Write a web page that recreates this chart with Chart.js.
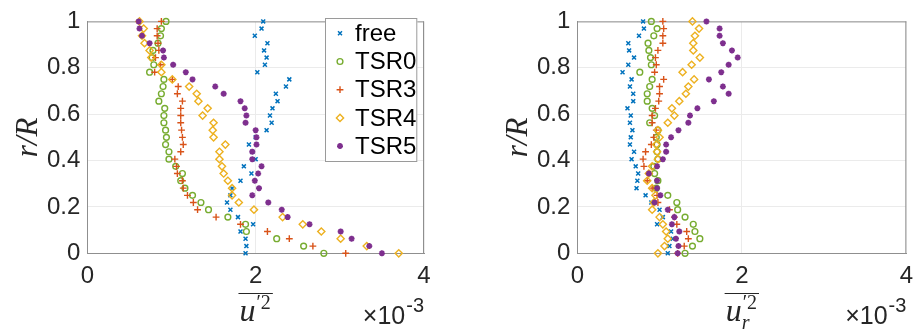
<!DOCTYPE html>
<html><head><meta charset="utf-8">
<script src="https://cdn.jsdelivr.net/npm/chart.js@4.4.1/dist/chart.umd.min.js"></script>
<style>
html,body{margin:0;padding:0;background:#fff;width:922px;height:331px;overflow:hidden}
canvas{position:absolute;top:0}
#c1{left:0}
#c2{left:490px}
</style></head><body>
<canvas id="c1" width="461" height="331"></canvas>
<canvas id="c2" width="432" height="331"></canvas>
<script>
// radial positions r/R (shared by every series)
const rOverR = [0, 0.031, 0.063, 0.094, 0.125, 0.156, 0.188, 0.219, 0.25, 0.281, 0.313, 0.344, 0.375, 0.406, 0.438, 0.469, 0.5, 0.531, 0.563, 0.594, 0.625, 0.656, 0.688, 0.719, 0.75, 0.781, 0.813, 0.844, 0.875, 0.906, 0.938, 0.969, 1];

const seriesNames = ['free', 'TSR0', 'TSR3', 'TSR4', 'TSR5'];

// left panel: mean of u'^2, in units of 1e-3
const u2_free = [1.88, 1.89, 1.88, 1.82, 1.97, 1.79, 1.70, 1.66, 1.70, 1.72, 1.82, 1.95, 1.86, 2.00, 1.96, 1.92, 2.00, 2.13, 2.19, 2.17, 2.20, 2.26, 2.24, 2.36, 2.40, 2.02, 2.11, 2.13, 2.10, 2.14, 1.99, 2.07, 2.09];
const u2_TSR0 = [2.81, 2.57, 2.25, 1.89, 1.88, 1.67, 1.44, 1.35, 1.25, 1.16, 1.11, 1.13, 1.05, 0.97, 0.97, 0.93, 0.94, 0.93, 0.91, 0.91, 0.92, 0.85, 0.88, 0.90, 0.91, 0.74, 0.79, 0.77, 0.78, 0.84, 0.87, 0.88, 0.935];
const u2_TSR3 = [3.07, 2.68, 2.40, 2.14, 1.82, 1.53, 1.31, 1.26, 1.19, 1.14, 1.13, 1.07, 1.06, 1.04, 1.11, 1.14, 1.13, 1.12, 1.11, 1.11, 1.11, 1.13, 1.07, 1.08, 1.01, 0.80, 0.87, 0.81, 0.85, 0.84, 0.83, 0.83, 0.88];
const u2_TSR4 = [3.70, 3.32, 3.01, 2.78, 2.56, 2.32, 1.98, 1.80, 1.72, 1.72, 1.67, 1.62, 1.60, 1.57, 1.57, 1.64, 1.50, 1.49, 1.50, 1.37, 1.43, 1.32, 1.30, 1.21, 1.01, 0.88, 0.88, 0.76, 0.74, 0.68, 0.65, 0.67, 0.62];
const u2_TSR5 = [3.50, 3.35, 3.14, 3.01, 2.64, 2.38, 2.31, 2.15, 1.96, 2.04, 1.99, 2.03, 2.07, 1.96, 1.96, 2.01, 2.01, 2.00, 1.88, 1.89, 1.87, 1.82, 1.62, 1.52, 1.25, 1.17, 1.02, 0.91, 0.90, 0.74, 0.65, 0.62, 0.61];

// right panel: mean of u_r'^2, in units of 1e-3
const ur2_free = [1.10, 1.12, 1.16, 1.14, 0.97, 1.04, 1.00, 0.90, 0.83, 0.72, 0.73, 0.74, 0.71, 0.66, 0.69, 0.64, 0.65, 0.67, 0.64, 0.65, 0.61, 0.68, 0.68, 0.64, 0.66, 0.55, 0.62, 0.69, 0.63, 0.62, 0.75, 0.81, 0.80];
const ur2_TSR0 = [1.31, 1.40, 1.49, 1.43, 1.41, 1.31, 1.22, 1.21, 1.10, 0.96, 0.98, 0.94, 0.93, 0.98, 0.97, 0.97, 0.96, 0.98, 0.88, 0.94, 0.91, 0.85, 0.85, 0.88, 0.91, 0.76, 0.90, 0.89, 0.87, 0.86, 0.93, 0.97, 0.90];
const ur2_TSR3 = [1.22, 1.30, 1.35, 1.33, 1.21, 1.18, 1.12, 0.98, 0.97, 0.91, 0.85, 0.87, 0.81, 0.80, 0.83, 0.90, 0.93, 0.96, 0.91, 0.91, 0.95, 0.99, 1.00, 1.00, 1.05, 0.94, 0.96, 0.95, 0.98, 1.04, 1.04, 1.05, 1.04];
const ur2_TSR4 = [0.98, 1.06, 1.10, 1.08, 1.04, 1.00, 0.91, 0.93, 0.95, 0.91, 0.85, 0.87, 0.91, 0.98, 0.97, 0.96, 1.00, 0.98, 1.10, 1.18, 1.15, 1.24, 1.32, 1.35, 1.42, 1.28, 1.39, 1.49, 1.41, 1.41, 1.43, 1.48, 1.40];
const ur2_TSR5 = [1.22, 1.23, 1.20, 1.24, 1.15, 1.18, 1.10, 0.94, 1.01, 0.97, 0.97, 0.87, 0.97, 1.04, 1.08, 1.08, 1.14, 1.23, 1.35, 1.37, 1.46, 1.66, 1.84, 1.77, 1.60, 1.75, 1.84, 1.95, 1.88, 1.77, 1.73, 1.73, 1.57];

const yTickValues = [0, 0.2, 0.4, 0.6, 0.8, 1];
const yTickLabels = ['0', '0.2', '0.4', '0.6', '0.8', '1'];
const xTickValues = [0, 2, 4];
const xTickLabels = ['0', '2', '4'];
const xExponent = '-3';

const styles = [
  {color: '#0072BD', pointStyle: 'crossRot', radius: 2.8, width: 1.5, fill: false},
  {color: '#77AC30', pointStyle: 'circle', radius: 2.9, width: 1.4, fill: false},
  {color: '#D95319', pointStyle: 'cross', radius: 3.4, width: 1.4, fill: false},
  {color: '#EDB120', pointStyle: 'rectRot', radius: 3.6, width: 1.4, fill: false},
  {color: '#7E2F8E', pointStyle: 'star', radius: 3.0, width: 1.8, fill: true}
];

const TXT = '#262626';
const AXIS = '#8f8f8f';
const GRID = '#ebebeb';
const SANS = '"Liberation Sans", Arial, sans-serif';
const SERIF = '"Liberation Serif", "DejaVu Serif", serif';

function makeDatasets(arrs) {
  return arrs.map((vals, i) => ({
    label: seriesNames[i],
    data: vals.map((v, k) => ({x: v, y: rOverR[k]})),
    showLine: false,
    pointStyle: styles[i].pointStyle,
    pointRadius: styles[i].radius,
    pointHoverRadius: styles[i].radius,
    pointBorderWidth: styles[i].width,
    borderColor: styles[i].color,
    backgroundColor: styles[i].fill ? styles[i].color : 'rgba(0,0,0,0)',
    clip: false,
    order: 4 - i
  }));
}

function drawMarker(ctx, st, x, y) {
  const r = st.radius;
  ctx.save();
  ctx.strokeStyle = st.color;
  ctx.fillStyle = st.color;
  ctx.lineWidth = st.width;
  ctx.beginPath();
  if (st.pointStyle === 'circle') {
    ctx.arc(x, y, r, 0, Math.PI * 2);
  } else if (st.pointStyle === 'cross' || st.pointStyle === 'star') {
    ctx.moveTo(x - r, y); ctx.lineTo(x + r, y);
    ctx.moveTo(x, y - r); ctx.lineTo(x, y + r);
    if (st.pointStyle === 'star') {
      const d = r * 0.7071;
      ctx.moveTo(x - d, y - d); ctx.lineTo(x + d, y + d);
      ctx.moveTo(x - d, y + d); ctx.lineTo(x + d, y - d);
    }
  } else if (st.pointStyle === 'crossRot') {
    const d = r * 0.7071;
    ctx.moveTo(x - d, y - d); ctx.lineTo(x + d, y + d);
    ctx.moveTo(x - d, y + d); ctx.lineTo(x + d, y - d);
  } else if (st.pointStyle === 'rectRot') {
    ctx.moveTo(x, y - r); ctx.lineTo(x + r, y); ctx.lineTo(x, y + r); ctx.lineTo(x - r, y); ctx.closePath();
  }
  ctx.stroke();
  ctx.restore();
}

function decorPlugin(opts) {
  return {
    id: 'decor',
    beforeDatasetsDraw(chart) {
      const {ctx, chartArea: a} = chart;
      ctx.save();
      ctx.strokeStyle = AXIS;
      ctx.lineWidth = 1;
      ctx.beginPath();
      ctx.moveTo(a.left, a.top + 0.5); ctx.lineTo(a.right, a.top + 0.5);
      ctx.moveTo(a.right - 0.5, a.top); ctx.lineTo(a.right - 0.5, a.bottom);
      ctx.stroke();
      ctx.restore();
    },
    afterDraw(chart) {
      const {ctx, chartArea: a} = chart;
      ctx.save();
      ctx.fillStyle = TXT;
      ctx.textBaseline = 'alphabetic';
      ctx.textAlign = 'left';
      // x title with overline
      const cx = (a.left + a.right) / 2;
      ctx.font = 'italic 32px ' + SERIF;
      const wu = ctx.measureText('u').width;
      ctx.font = '20px ' + SERIF;
      const wsup = ctx.measureText('\u20322').width;
      let wsub = 0;
      if (opts.sub) { ctx.font = 'italic 20px ' + SERIF; wsub = ctx.measureText(opts.sub).width; }
      const total = wu + Math.max(wsup, wsub) + 2;
      const x0 = cx - total / 2;
      ctx.font = 'italic 32px ' + SERIF;
      ctx.fillText('u', x0, 321);
      ctx.font = '20px ' + SERIF;
      ctx.fillText('\u20322', x0 + wu + 1, 309);
      if (opts.sub) { ctx.font = 'italic 20px ' + SERIF; ctx.fillText(opts.sub, x0 + wu, 329); }
      ctx.strokeStyle = TXT;
      ctx.lineWidth = 1.2;
      ctx.beginPath();
      ctx.moveTo(x0 - 1, 293.5); ctx.lineTo(x0 + total + 1, 293.5);
      ctx.stroke();
      // exponent label
      ctx.font = '20px ' + SANS;
      const we = ctx.measureText(xExponent).width;
      ctx.fillText(xExponent, a.right - we, 312);
      ctx.font = '25px ' + SANS;
      ctx.textAlign = 'right';
      ctx.fillText('\u00d710', a.right - we - 1, 324);
      // legend
      if (opts.legend) {
        const L = 325, T = 18, R = 417.3, B = 162;
        ctx.fillStyle = '#ffffff';
        ctx.fillRect(L, T, R - L, B - T);
        ctx.strokeStyle = '#9a9a9a';
        ctx.lineWidth = 1;
        ctx.strokeRect(L + 0.5, T + 0.5, R - L - 1, B - T - 1);
        ctx.textAlign = 'left';
        ctx.textBaseline = 'middle';
        ctx.font = '24px ' + SANS;
        seriesNames.forEach((name, i) => {
          const y = 33.3 + i * 28.2;
          drawMarker(ctx, styles[i], 340, y);
          ctx.fillStyle = '#000000';
          ctx.fillText(name, 355, y + 1);
        });
      }
      ctx.restore();
    }
  };
}

function makeChart(id, arrs, opts) {
  return new Chart(document.getElementById(id), {
    type: 'scatter',
    data: {datasets: makeDatasets(arrs)},
    options: {
      responsive: false,
      animation: false,
      devicePixelRatio: 1,
      events: [],
      layout: {padding: {left: 0, top: 13.3, right: opts.padRight, bottom: 0}},
      plugins: {legend: {display: false}, tooltip: {enabled: false}},
      scales: {
        x: {
          type: 'linear', min: 0, max: 4,
          afterBuildTicks(s) { s.ticks = xTickValues.map(v => ({value: v})); },
          afterFit(s) { s.height = 77.7; },
          ticks: {
            callback: (v, i) => xTickLabels[i],
            font: {family: SANS, size: 24}, color: TXT, padding: 9, maxRotation: 0
          },
          grid: {color: GRID, drawTicks: false},
          border: {display: true, color: AXIS, width: 1}
        },
        y: {
          type: 'linear', min: 0, max: 1,
          afterBuildTicks(s) { s.ticks = yTickValues.map(v => ({value: v})); },
          afterFit(s) { s.width = 87.3; },
          ticks: {
            callback: (v, i) => yTickLabels[i],
            font: {family: SANS, size: 24}, color: TXT, padding: 7
          },
          grid: {color: GRID, drawTicks: false},
          border: {display: true, color: AXIS, width: 1},
          title: {
            display: true, text: 'r/R', color: TXT,
            font: {family: SERIF, style: 'italic', size: 31},
            padding: {top: 10, bottom: 0}
          }
        }
      }
    },
    plugins: [decorPlugin(opts)]
  });
}

makeChart('c1', [u2_free, u2_TSR0, u2_TSR3, u2_TSR4, u2_TSR5], {padRight: 37, legend: true, sub: null});
makeChart('c2', [ur2_free, ur2_TSR0, ur2_TSR3, ur2_TSR4, ur2_TSR5], {padRight: 8.7, legend: false, sub: 'r'});
</script>
</body></html>
